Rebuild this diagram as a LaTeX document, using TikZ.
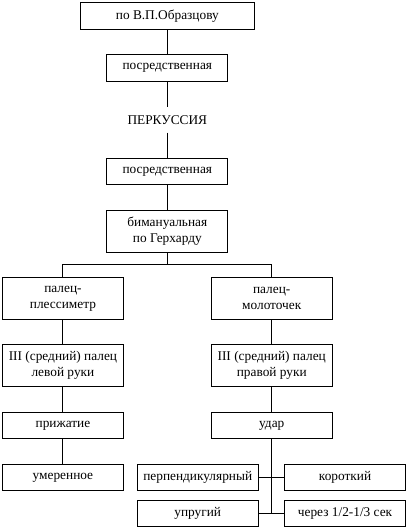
\documentclass[tikz,border=0pt]{standalone}
\usepackage{fontspec}
\setmainfont{Liberation Serif}
\usetikzlibrary{positioning, calc}

\begin{document}
\begin{tikzpicture}[
    node distance=19pt and 0pt,
    box/.style={rectangle, draw, line width=0.75pt, outer sep=0pt, align=center, minimum width=90.75pt, minimum height=20pt, inner sep=2pt},
    tallbox/.style={box, minimum height=31.5pt},
    topbox/.style={box, minimum width=130.5pt},
    plain/.style={rectangle, outer sep=0pt, align=center, minimum height=19.5pt, inner sep=2pt},
    link/.style={line width=0.75pt},
]
\useasboundingbox (0,0) rectangle (305.25pt,-396pt);
\node[topbox] (obraz) at (125.5pt,-12pt) {по В.П.Образцову};
\node[box, below=of obraz] (posr1) {посредственная};
\node[plain, below=of posr1] (perk) {ПЕРКУССИЯ};
\node[box, below=of perk] (posr2) {посредственная};
\node[tallbox, below=of posr2] (biman) {бимануальная\\по Герхарду};
\node[tallbox, below=of biman, xshift=-78.3pt] (pless) {палец-\\плессиметр};
\node[tallbox, below=of biman, xshift=78.3pt] (molot) {палец-\\молоточек};
\node[tallbox, below=of pless] (levaya) {III (средний) палец\\левой руки};
\node[tallbox, below=of molot] (pravaya) {III (средний) палец\\правой руки};
\node[box, below=of levaya] (prizh) {прижатие};
\node[box, below=of pravaya] (udar) {удар};
\node[box, below=of prizh] (umer) {умеренное};
\node[box, below=of udar, xshift=-55.5pt] (perp) {перпендикулярный};
\node[box, below=of udar, xshift=55pt] (korot) {короткий};
\node[box, below=7pt of perp] (uprug) {упругий};
\node[box, below=7pt of korot] (cherez) {через 1/2-1/3 сек};
% split point under the bimanual box
\coordinate (split) at ($(biman.south)!0.5!(biman.south |- pless.north)$);
\draw[link] (obraz) -- (posr1);
\draw[link] (posr1) -- (perk);
\draw[link] (perk) -- (posr2);
\draw[link] (posr2) -- (biman);
\draw[link] (biman) -- (split);
\draw[link] (split) -| (pless);
\draw[link] (split) -| (molot);
\draw[link] (pless) -- (levaya);
\draw[link] (molot) -- (pravaya);
\draw[link] (levaya) -- (prizh);
\draw[link] (pravaya) -- (udar);
\draw[link] (prizh) -- (umer);
\draw[link] (udar.south) -- (udar.south |- uprug.east);
\draw[link] (perp) -- (korot);
\draw[link] (uprug) -- (cherez);
\end{tikzpicture}
\end{document}
